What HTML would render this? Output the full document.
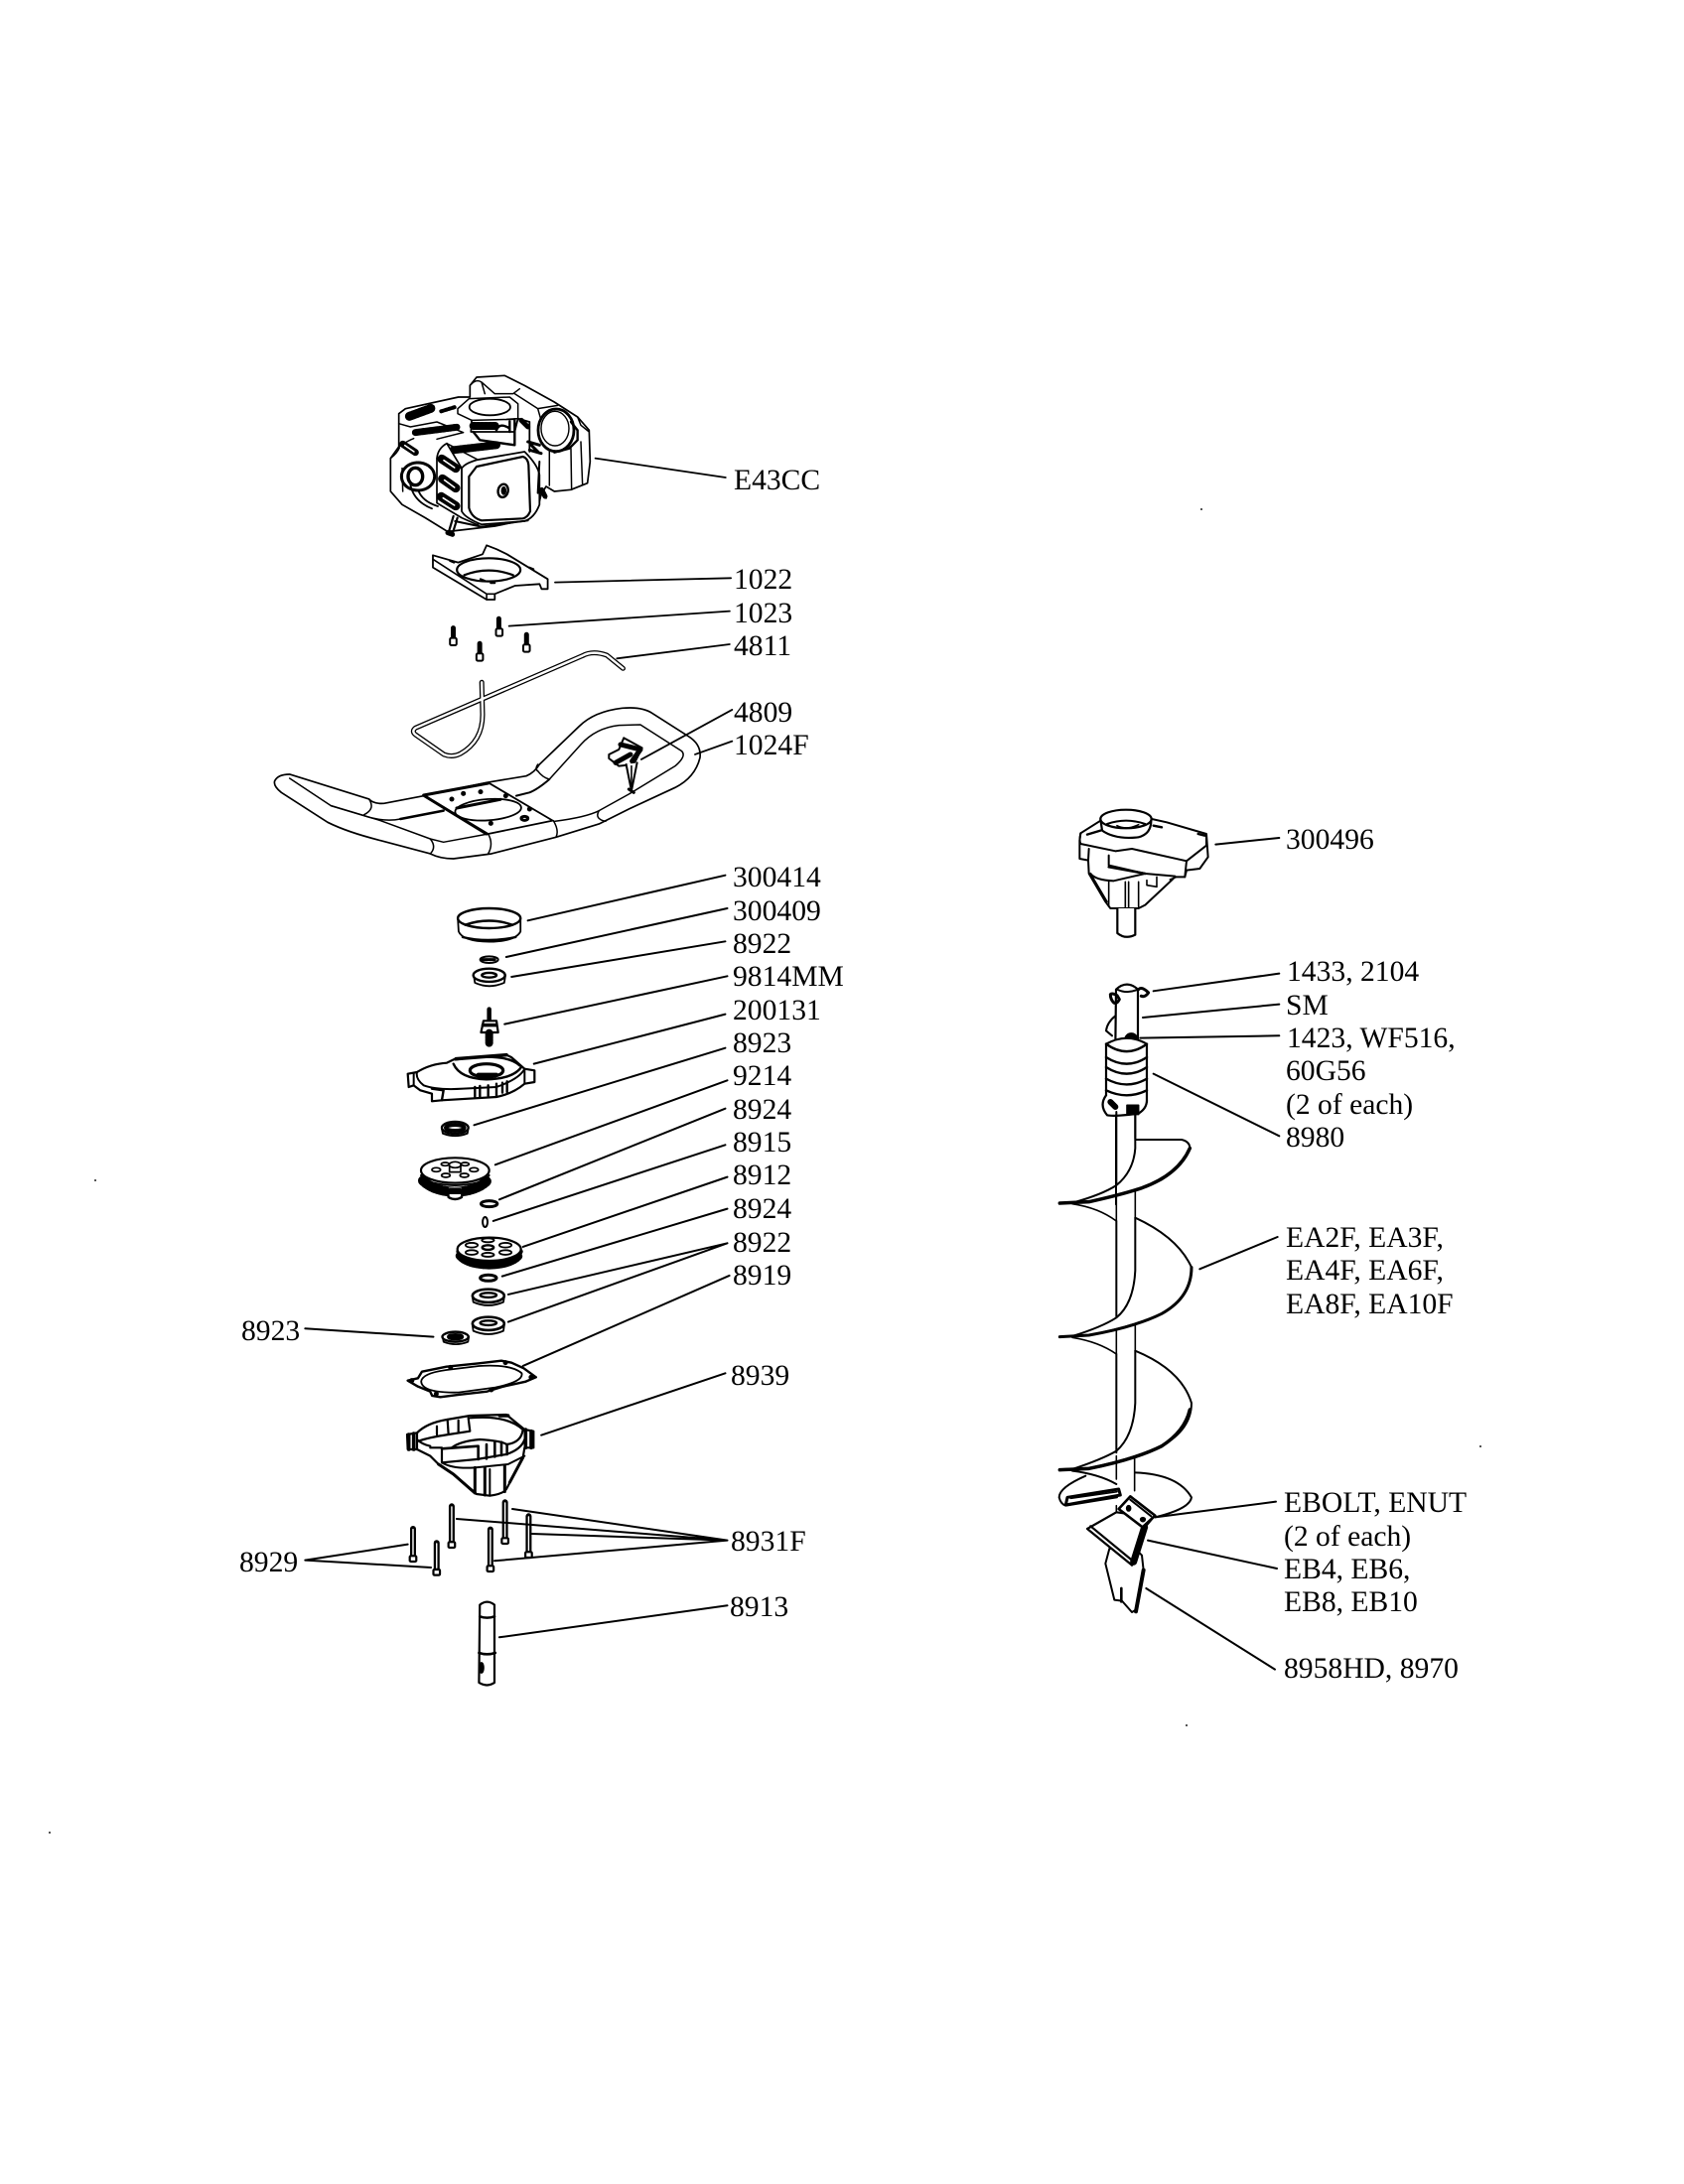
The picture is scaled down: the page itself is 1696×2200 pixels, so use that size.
<!DOCTYPE html>
<html><head><meta charset="utf-8"><title>Parts diagram</title>
<style>
html,body{margin:0;padding:0;background:#fff}
svg{display:block}
svg *{vector-effect:non-scaling-stroke}
text{font-family:"Liberation Serif",serif;font-size:29.6px;fill:#000;stroke:none}
</style></head><body>
<svg width="1696" height="2200" viewBox="0 0 1696 2200" xmlns="http://www.w3.org/2000/svg">
<rect width="1696" height="2200" fill="#fff"/>

<!-- ENGINE (3x crop at 385,365) -->
<g transform="translate(385,365) scale(.3333)" fill="none" stroke="#000" stroke-width="1.5" stroke-linejoin="round" stroke-linecap="round">
<path fill="#fff" stroke-width="1.7" d="M25 290L50 255L50 155L70 140L230 105L265 105L265 70L285 45L370 40L430 70L520 120L590 165L625 205L628 300L620 365L570 385L520 390L495 375L480 400L470 440L440 475L340 495L210 510L195 510L130 470L60 430L25 390Z"/>
<path d="M270 65Q285 50 300 60L340 95L395 95L415 80M400 95L470 140L530 130M300 60L310 95M470 140L480 175"/>
<path d="M228 140L262 110L385 105L410 125L410 170L375 172M228 140L228 155L270 175L400 172"/>
<ellipse cx="325" cy="135" rx="62" ry="25" fill="#fff" stroke-width="1.8"/>
<path d="M270 175L268 210L400 210L410 170L445 180M445 180L445 270" stroke-width="1.8"/>
<path d="M275 192L345 192" stroke-width="8" stroke-dasharray="2 2"/>
<path d="M345 205Q355 180 385 200M385 178L385 210M400 172L400 250M275 210L295 235L400 250" stroke-width="2.4"/>
<path d="M420 175L440 195" stroke-width="5"/>
<path d="M82 163L150 138" stroke-width="9" stroke-dasharray="2 1.5"/>
<path d="M178 148L220 135" stroke-width="4" stroke-dasharray="2 2"/>
<path d="M50 185L85 195L165 180L245 212L165 232"/>
<path d="M100 212L225 196" stroke-width="7" stroke-dasharray="2 1.5"/>
<path d="M215 265L345 250" stroke-width="8" stroke-dasharray="2 1.5"/>
<path d="M440 240L475 250M445 265L480 275M450 250L470 270" stroke-width="3"/>
<path d="M505 255L505 372M570 260L572 385M590 165L600 190L625 210M600 240L605 370" />
<ellipse cx="525" cy="205" rx="54" ry="64" fill="#fff" stroke-width="2.8"/>
<ellipse cx="522" cy="200" rx="42" ry="52" stroke-width="1.4"/>
<path d="M570 180L590 205L590 235L565 260L520 272" stroke-width="2.4"/>
<!-- shroud -->
<path fill="#fff" stroke-width="1.7" d="M240 320L195 245Q168 260 165 290L165 425L240 470L290 492L270 320Z"/>
<path d="M195 245L290 295M165 290L240 320"/>
<path d="M180 292L222 320M182 352L222 380M178 406L222 434" stroke-width="9"/>
<path d="M186 296L218 318M188 356L218 378M184 410L218 432" stroke="#fff" stroke-width="1.6"/>
<path d="M62 247L100 272" stroke-width="7"/><path d="M68 251L96 270" stroke="#fff" stroke-width="1.5"/>
<path d="M50 255Q80 235 95 230" />
<path fill="#fff" stroke-width="1.8" d="M240 320Q250 305 285 295L430 270Q470 310 475 340L475 430Q460 470 430 480L300 490Q250 470 240 450Z"/>
<path stroke-width="2.2" d="M262 345L285 315L425 285Q440 290 442 310L447 450Q440 468 425 472L300 478Q270 470 262 440Z"/>
<ellipse cx="365" cy="388" rx="15" ry="20" stroke-width="2.4" transform="rotate(12 365 388)"/><ellipse cx="367" cy="388" rx="6" ry="11" fill="#000"/>
<ellipse cx="108" cy="345" rx="50" ry="42" stroke-width="3" stroke-dasharray="5 1"/>
<ellipse cx="100" cy="345" rx="22" ry="26" stroke-width="3.4"/>
<path d="M85 370Q95 420 150 442M108 385Q120 420 168 435" stroke-width="1.8"/>
<path d="M25 290Q45 275 52 258M60 320L62 390" />
<path d="M215 465L200 515M227 470L212 518" stroke-width="2.2"/><path d="M198 515L212 520" stroke-width="5"/>
<path d="M220 480L300 497L440 478" stroke-width="2"/>
<path d="M475 300L470 395M478 395L495 410" stroke-width="2"/><path d="M482 385L492 405" stroke-width="5"/>
</g>

<!-- GROUP 1: plate, screws, rod, leaders -->
<g transform="translate(240,350) scale(.41,.3333)" fill="none" stroke="#000" stroke-width="1.6" stroke-linejoin="round" stroke-linecap="round">
<path fill="#fff" stroke-width="1.8" d="M478 628L540 650L600 625L610 598L635 610L660 625L700 655L760 700L760 730L745 730L740 715L680 720L630 745L630 762L610 762L478 665Z"/>
<path d="M478 640L610 745L630 745M610 745L610 762"/>
<ellipse cx="615" cy="672" rx="78" ry="35" fill="#fff" stroke-width="2.2"/>
<path d="M555 688Q615 660 675 688" stroke-width="2.2"/>
<path d="M595 700L605 705M620 712L630 712M520 645L530 650M715 665L725 670" stroke-width="2"/>
<path d="M640 820L640 850" stroke-width="5"/><rect x="633" y="850" width="16" height="22" rx="4" fill="#fff" stroke-width="2"/>
<path d="M528 848L528 878" stroke-width="5"/><rect x="520" y="878" width="16" height="22" rx="4" fill="#fff" stroke-width="2"/>
<path d="M708 868L708 898" stroke-width="5"/><rect x="700" y="898" width="16" height="22" rx="4" fill="#fff" stroke-width="2"/>
<path d="M593 895L593 925" stroke-width="5"/><rect x="585" y="925" width="16" height="22" rx="4" fill="#fff" stroke-width="2"/>
<path d="M945 970L905 930Q870 915 845 932L435 1150Q425 1160 435 1170L505 1230Q525 1240 545 1228Q600 1190 600 1110L598 1012" stroke-width="5"/>
<path d="M945 970L905 930Q870 915 845 932L435 1150Q425 1160 435 1170L505 1230Q525 1240 545 1228Q600 1190 600 1110L598 1012" stroke="#fff" stroke-width="2.4"/>
<path stroke-width="1.8" d="M877 335L1197 393M778 710L1210 697M665 842L1207 797M930 940L1207 897M990 1245L1213 1095M1122 1230L1213 1190"/>
</g>

<!-- HANDLE (3x crop at 270,700) -->
<g transform="translate(270,700) scale(.3333)" fill="none" stroke="#000" stroke-width="1.5" stroke-linejoin="round" stroke-linecap="round">
<path stroke-width="1.7" d="M305 315Q318 330 350 328L470 305L660 265L780 245Q805 235 820 210L940 95Q985 50 1070 40Q1130 35 1160 55L1270 125Q1310 150 1305 190Q1290 250 1230 280L1090 345L1000 390L870 430L675 480L560 495Q520 495 490 480L340 440Q240 415 180 385L40 295Q15 275 20 260Q30 240 65 240L305 315"/>
<path d="M65 252L190 335L290 365Q350 385 400 375L530 350M815 230Q830 250 850 255L945 150Q990 100 1060 92L1125 90L1250 170Q1265 185 1230 215L1090 300L1000 350Q960 370 865 382"/>
<path stroke-width="2" d="M750 305L790 295Q815 285 850 255"/>
<path d="M190 335L340 380L490 435L530 445L665 420"/>
<path d="M490 435Q510 460 490 480M665 420Q682 450 665 480M862 380Q880 410 870 430M305 315Q325 345 290 362M815 210Q805 225 815 230M1000 350Q985 375 1020 382"/>
<path stroke-width="2.5" d="M400 375L530 350"/>
<path fill="#fff" stroke-width="1.8" d="M470 303L665 265L860 380L665 420Z"/>
<path stroke-width="3" d="M472 305L660 420M470 303L665 267"/>
<ellipse cx="665" cy="347" rx="100" ry="32" stroke-width="1.8" transform="rotate(-4 665 347)"/>
<path stroke-width="3" d="M570 342L702 316"/>
<path stroke-width="5" d="M555 315l.1 0M590 298l.1 0M642 293l.1 0M718 305l.1 0M790 345l.1 0M673 388l.1 0"/>
<ellipse cx="775" cy="373" rx="10" ry="6" stroke-width="3"/>
<!-- latch -->
<path fill="#fff" stroke-width="2" d="M1075 130L1130 160L1105 210L1060 215L1030 192L1030 180L1060 165Z"/>
<path stroke-width="5" d="M1065 150L1125 165L1100 200M1050 205L1095 180"/>
<path fill="#fff" stroke-width="2" d="M1082 210L1098 290L1115 205"/>
<path stroke-width="1.6" d="M1098 215L1098 280"/>
<path stroke-width="3" d="M1090 285L1105 295"/>
</g>

<!-- GROUP 2: ring -> bearings -->
<g transform="translate(220,850) scale(.41,.3333)" fill="none" stroke="#000" stroke-width="1.8" stroke-linejoin="round" stroke-linecap="round">
<path fill="#fff" d="M588 225L590 265Q600 295 665 296Q730 295 742 265L742 225"/>
<ellipse cx="665" cy="225" rx="77" ry="30" fill="#fff" stroke-width="2.4"/>
<path d="M606 245Q665 220 722 245" stroke-width="2.4"/>
<path d="M600 282Q660 300 730 282" stroke-width="2.4"/>
<ellipse cx="665" cy="350" rx="22" ry="10" stroke-width="2"/><path d="M648 350L682 350" stroke-width="3" stroke-dasharray="2 1.5"/>
<path fill="#fff" d="M627 397L630 420Q665 440 702 420L705 397"/>
<ellipse cx="665" cy="397" rx="39" ry="20" fill="#fff" stroke-width="2.4"/><ellipse cx="665" cy="397" rx="18" ry="7" stroke-width="2.4"/>
<!-- 9814MM -->
<path d="M665 500L665 535" stroke-width="4.5"/><path d="M651 535L683 535L687 570L645 570Z" fill="#fff" stroke-width="2.2"/>
<path d="M665 572L665 602" stroke-width="8" stroke-dasharray="2 1"/><path d="M650 548L682 548" stroke-width="3.5"/>
<!-- washers -->
<ellipse cx="665" cy="1088" rx="20" ry="9" stroke-width="3"/>
<ellipse cx="655" cy="1143" rx="6" ry="15" stroke-width="2"/>
<!-- 8912 gear -->
<path d="M592 1245Q610 1272 665 1274Q720 1272 738 1245" stroke-width="8" stroke-dasharray="1.6 1"/>
<path d="M590 1232Q600 1262 665 1264Q730 1262 742 1232" stroke-width="5"/>
<ellipse cx="665" cy="1225" rx="78" ry="35" fill="#fff" stroke-width="2.2"/>
<ellipse cx="622" cy="1213" rx="15" ry="7"/><ellipse cx="622" cy="1235" rx="15" ry="7"/><ellipse cx="705" cy="1213" rx="15" ry="7"/><ellipse cx="705" cy="1235" rx="15" ry="7"/><ellipse cx="662" cy="1198" rx="15" ry="6"/><ellipse cx="662" cy="1242" rx="15" ry="6"/><ellipse cx="662" cy="1220" rx="14" ry="7" stroke-width="2.4"/>
<ellipse cx="663" cy="1312" rx="20" ry="9" stroke-width="3"/>
<!-- bearings -->
<path fill="#fff" d="M624 1370L626 1385Q663 1405 700 1385L702 1370"/>
<ellipse cx="663" cy="1366" rx="39" ry="20" fill="#fff" stroke-width="2.6"/><ellipse cx="663" cy="1364" rx="20" ry="7" stroke-width="2.4"/>
<path fill="#fff" d="M624 1455L626 1472Q663 1492 700 1472L702 1455"/>
<ellipse cx="663" cy="1450" rx="39" ry="20" fill="#fff" stroke-width="2.6"/><ellipse cx="663" cy="1448" rx="20" ry="7" stroke-width="2.4"/>
<path fill="#fff" d="M551 1492L553 1505Q583 1520 613 1505L615 1490"/>
<ellipse cx="582" cy="1490" rx="32" ry="15" fill="#fff" stroke-width="2.4"/><ellipse cx="582" cy="1490" rx="16" ry="5" stroke-width="4"/>
<!-- leaders -->
<path stroke-width="2" d="M760 232L1245 95M707 342L1250 195M720 402L1245 295M703 545L1250 400M775 665L1245 515M628 850L1245 617M680 970L1250 715M690 1075L1245 800M675 1140L1245 910M748 1218L1250 1007M697 1307L1250 1103M712 1362L1250 1207M712 1445L1250 1207M748 1578L1255 1305M213 1465L528 1490"/>
</g>

<!-- COVER 200131, seal, gear 9214 (3x crop at 400,1030) -->
<g transform="translate(400,1030) scale(.3333)" fill="none" stroke="#000" stroke-width="1.7" stroke-linejoin="round" stroke-linecap="round">
<path fill="#fff" stroke-width="2.2" d="M32 155L60 150Q100 125 150 122L175 110L330 98L345 105L385 140L415 145L415 180L385 185Q350 215 300 225L135 235L105 238L105 215L70 205L50 190L35 195Z"/>
<path stroke-width="2" d="M60 150Q55 170 80 190Q120 205 200 200L300 195Q370 170 385 140M50 155L50 190M385 140L385 185"/>
<path stroke-width="2.4" d="M170 125Q190 170 270 172Q350 170 375 135M175 112Q330 90 370 130"/>
<ellipse cx="270" cy="145" rx="50" ry="20" stroke-width="3.2"/>
<path stroke-width="3.5" d="M245 157L300 157M178 110L330 98"/>
<path stroke-width="2.4" d="M105 200L140 205L135 235M235 195L235 225M250 192L250 225M275 190L275 222M300 185L300 222M318 182L318 212M332 178L332 210"/>
<!-- 8923 seal -->
<path fill="#fff" stroke-width="2" d="M135 320L138 335Q175 350 212 335L215 318"/>
<ellipse cx="175" cy="318" rx="40" ry="18" fill="#fff" stroke-width="2.4"/>
<ellipse cx="175" cy="318" rx="28" ry="9" stroke-width="4"/>
<!-- 9214 gear -->
<path d="M78 478Q110 510 175 512Q240 510 272 478" stroke-width="10" stroke-dasharray="1.8 1.4"/>
<path d="M72 462Q90 490 175 492Q260 490 278 462" stroke-width="2"/>
<ellipse cx="175" cy="447" rx="103" ry="38" fill="#fff" stroke-width="2.2"/>
<path fill="#fff" stroke-width="2.4" d="M152 500L155 528Q175 540 195 528L198 500"/>
<path stroke-width="6" stroke-dasharray="1.8 1.2" d="M158 510L192 510"/>
<ellipse cx="175" cy="430" rx="18" ry="9"/><path d="M158 432L158 452L192 452L192 430"/>
<ellipse cx="118" cy="445" rx="13" ry="6"/><ellipse cx="232" cy="445" rx="13" ry="6"/><ellipse cx="147" cy="462" rx="13" ry="6"/><ellipse cx="203" cy="462" rx="13" ry="6"/><ellipse cx="145" cy="428" rx="12" ry="5"/><ellipse cx="205" cy="428" rx="12" ry="5"/>
</g>

<!-- GROUP 3: gasket, bolts, shaft -->
<g transform="translate(220,1300) scale(.41,.3333)" fill="none" stroke="#000" stroke-width="1.8" stroke-linejoin="round" stroke-linecap="round">
<path stroke-width="2.4" d="M465 272L490 265L500 245L560 230L640 220L695 212L720 218L750 235L780 262L755 275L700 290L660 305L590 315L545 322L525 318L520 305L490 290Z"/>
<path stroke-width="1.8" d="M498 275Q500 250 560 240L640 228Q720 222 745 250Q750 275 680 293L590 308Q500 310 498 275Z"/>
<path d="M475 272l.1 0M768 262l.1 0M535 312l.1 0M705 218l.1 0M570 232l.1 0M670 300l.1 0" stroke-width="5"/>
<path d="M573 652L573 760" stroke-width="6"/><path d="M573 654L573 755" stroke="#fff" stroke-width="1.4"/><rect x="565" y="760" width="16" height="17" rx="3" fill="#fff" stroke-width="2.2"/>
<path d="M704 640L704 748" stroke-width="6"/><path d="M704 642L704 745" stroke="#fff" stroke-width="1.4"/><rect x="696" y="748" width="16" height="17" rx="3" fill="#fff" stroke-width="2.2"/>
<path d="M762 682L762 790" stroke-width="6"/><path d="M762 684L762 785" stroke="#fff" stroke-width="1.4"/><rect x="754" y="790" width="16" height="17" rx="3" fill="#fff" stroke-width="2.2"/>
<path d="M668 722L668 832" stroke-width="6"/><path d="M668 724L668 828" stroke="#fff" stroke-width="1.4"/><rect x="660" y="832" width="16" height="17" rx="3" fill="#fff" stroke-width="2.2"/>
<path d="M478 720L478 802" stroke-width="6"/><path d="M478 722L478 798" stroke="#fff" stroke-width="1.4"/><rect x="470" y="802" width="16" height="17" rx="3" fill="#fff" stroke-width="2.2"/>
<path d="M536 763L536 843" stroke-width="6"/><path d="M536 765L536 838" stroke="#fff" stroke-width="1.4"/><rect x="528" y="843" width="16" height="17" rx="3" fill="#fff" stroke-width="2.2"/>
<path fill="#fff" stroke-width="2.2" d="M642 950Q660 932 678 950L678 1185Q660 1200 640 1185Z"/>
<path d="M642 985Q660 993 678 985M640 1095Q660 1103 680 1095" stroke-width="2.6"/>
<ellipse cx="646" cy="1140" rx="5" ry="15" fill="#000"/>
<path stroke-width="2" d="M793 437L1245 250M722 660L1250 755M585 690L1250 755M770 735L1250 755M678 817L1250 755M213 815L465 767M213 815L522 837M690 1048L1250 952"/>
</g>

<!-- HOUSING 8939 (3x crop at 400,1410) -->
<g transform="translate(400,1410) scale(.3333)" fill="none" stroke="#000" stroke-width="2" stroke-linejoin="round" stroke-linecap="round">
<path fill="#fff" stroke-width="2.2" d="M30 105L60 100Q90 70 150 60L220 48L330 45L385 90L412 95L412 145L385 145L380 175L330 270Q320 285 280 290L240 285L170 225L125 195L100 170L60 150L32 150Z"/>
<path stroke-width="2.2" d="M60 100L60 150M60 120Q75 135 100 140M65 125Q90 115 155 105L220 95L215 55M155 105L152 60M120 80L120 105M185 62L185 100"/>
<path stroke-width="2.2" d="M220 55Q330 45 380 90Q375 130 330 135M165 145Q190 125 250 120Q320 125 330 135M100 145L135 145L135 190L240 180L330 165Q375 150 385 120"/>
<path stroke-width="2.6" d="M245 140L245 180M270 135L270 178M295 130L295 172M315 128L315 168M332 135L332 165M135 148L245 140"/>
<path stroke-width="3" d="M235 205L235 280M265 205L265 288M325 200L325 278M125 195L170 225L235 282M380 175L340 250"/>
<path stroke-width="2" d="M135 190Q170 210 235 205L335 195L385 170M280 210L280 290"/>
<path stroke-width="3.6" d="M35 105L35 150M50 102L50 150M388 90L388 145M405 95L405 145"/>
<path stroke-width="3.5" d="M310 48L335 48"/>
</g>

<!-- GROUP 4: gearbox & coupler -->
<g transform="translate(1040,780) scale(.3333)" fill="none" stroke="#000" stroke-width="1.6" stroke-linejoin="round" stroke-linecap="round">
<path fill="#fff" stroke-width="2" d="M145 178L205 140L360 135L405 145L525 180L530 250L505 285L465 290L460 310L430 310L420 320L340 395L320 405L235 405L220 385L170 300L168 260L142 255L142 200Z"/>
<path stroke-width="2" d="M145 178Q140 200 145 210L250 232L300 225L465 262L525 215L525 185M170 225L168 260M465 262L460 310M230 245L230 275L340 300L430 308M175 300Q190 320 245 322L340 300"/>
<path stroke-width="2.4" d="M230 280L340 300M165 182L205 170M365 155L390 160M500 180L520 185"/>
<path d="M230 322L230 400M280 325L280 405M290 325L290 405M320 325L320 400M345 320L345 335L375 340L375 310M175 300L225 385M415 318L435 310"/>
<path fill="#fff" stroke-width="2.2" d="M205 135L210 170Q250 198 320 190Q360 180 358 135"/>
<ellipse cx="282" cy="135" rx="77" ry="28" fill="#fff" stroke-width="2.2"/>
<path d="M225 150Q282 130 340 150" stroke-width="2"/>
<path d="M255 155Q285 170 320 152"/>
<path fill="#fff" stroke-width="2.2" d="M256 405L256 480Q280 500 310 485L310 405"/>
<path d="M250 730Q225 750 222 775L240 790" stroke-width="2"/>
<path fill="#fff" stroke-width="2.2" d="M252 650Q285 620 318 650L318 820L250 820Z"/>
<path d="M235 665Q240 660 255 668L262 680Q255 695 245 690Q235 680 235 665Z" stroke-width="3"/>
<path d="M320 650Q330 640 350 660Q340 675 328 670" stroke-width="3"/>
<path d="M255 650Q285 665 318 650" stroke-width="2"/>
<ellipse cx="298" cy="802" rx="14" ry="14" stroke-width="5"/>
<path fill="#fff" stroke-width="2.2" d="M222 815Q285 780 345 815L345 990L222 990Z"/>
<path d="M222 815Q285 860 345 815M222 855Q285 895 345 855M222 885Q285 925 345 885M222 920Q285 955 345 920M222 955Q285 985 345 955" stroke-width="2.4"/>
<path d="M222 970Q200 1000 225 1030Q245 1035 320 1025Q345 1010 345 985" fill="#fff" stroke-width="2.2"/>
<path d="M285 1000L320 1000L320 1028L285 1028Z" fill="#000"/><path d="M235 990L250 1005" stroke-width="6"/>
<path d="M252 1030L252 1300M310 1030L310 1100" stroke-width="2"/>
<path stroke-width="2" d="M553 212L745 192M365 655L745 602M333 735L745 695M325 797L745 790M365 905L745 1093"/>
</g>

<!-- GROUP 5: auger flights -->
<g transform="translate(1030,1120) scale(.3333)" fill="none" stroke="#000" stroke-width="1.6" stroke-linejoin="round" stroke-linecap="round">
<path stroke-width="2" d="M283 0L283 220M340 0L340 110Q335 180 283 222Q240 250 150 275"/>
<path stroke-width="2" d="M340 84L480 84Q505 90 505 110Q490 160 420 205Q350 240 200 272L112 276"/>
<path stroke-width="3.5" d="M112 276L200 272Q300 250 360 230Q470 190 505 110"/>
<path d="M340 235L340 320M283 250L283 330M150 278Q230 290 283 330"/>
<path stroke-width="2" d="M340 320Q470 380 510 470Q510 560 420 610Q330 650 200 675L112 680"/>
<path stroke-width="3" d="M112 680L200 675Q340 650 420 610Q510 560 510 470"/>
<path stroke-width="2" d="M283 330L283 620M340 320L340 480Q335 580 283 622Q240 650 150 678"/>
<path d="M150 682Q230 695 283 732M283 660L283 732M340 640L340 720"/>
<path stroke-width="2" d="M340 722Q480 780 510 880Q510 960 420 1010Q330 1050 200 1078L112 1082"/>
<path stroke-width="2" d="M283 732L283 1030M340 722L340 880Q335 980 283 1025Q240 1050 150 1080"/>
<path stroke-width="3" d="M112 1082L200 1078Q340 1050 420 1010"/>
<path stroke-width="2" d="M535 475L770 378"/>
</g>

<!-- GROUP 6: auger bottom -->
<g transform="translate(1030,1420) scale(.3333)" fill="none" stroke="#000" stroke-width="1.6" stroke-linejoin="round" stroke-linecap="round">
<path d="M283 140L283 210M338 140L338 245M283 290L283 310"/>
<path stroke-width="2" d="M150 185Q230 195 283 225M340 190Q470 195 510 265Q505 300 400 325"/>
<path stroke-width="2" d="M190 200Q110 235 110 265Q115 285 130 290L285 265"/>
<path fill="#fff" stroke-width="3" d="M135 265L290 240L295 258L130 288Z"/><path d="M145 268L285 248"/>
<path stroke-width="3.5" d="M112 182L200 178Q340 150 420 110Q490 65 505 0"/>
<path fill="#fff" stroke-width="2" d="M262 420L250 465L277 575L300 578L330 612L342 605L365 485L360 440L340 420Z"/>
<path stroke-width="4" d="M365 485L342 610"/><path stroke-width="2.6" d="M298 540L298 580"/>
<path fill="#fff" stroke-width="2.2" d="M195 360L283 310L395 325L365 360L330 470Z"/>
<path stroke-width="2.2" d="M205 352L330 455L330 470M330 455L365 345"/>
<path stroke-width="7" d="M335 460L368 355"/>
<path fill="#fff" stroke-width="2.6" d="M290 300L325 262L400 320L362 355Z"/>
<path stroke-width="2" d="M325 272L388 322"/>
<ellipse cx="320" cy="298" rx="6" ry="8" fill="#000"/><ellipse cx="363" cy="332" rx="7" ry="6" fill="#000"/>
<path stroke-width="2" d="M400 325L765 278M378 395L768 480M373 540L762 785"/>
</g>

<!-- speckles -->
<g fill="#555"><rect x="1209" y="512" width="2" height="2"/><rect x="95" y="1188" width="2" height="2"/><rect x="49" y="1845" width="2" height="2"/><rect x="1194" y="1737" width="2" height="2"/><rect x="1490" y="1456" width="2" height="2"/></g>

<!-- labels -->
<text x="739" y="493">E43CC</text>
<text x="739" y="593">1022</text>
<text x="739" y="627">1023</text>
<text x="739" y="660">4811</text>
<text x="739" y="727">4809</text>
<text x="739" y="760">1024F</text>
<text x="738" y="893">300414</text>
<text x="738" y="927">300409</text>
<text x="738" y="960">8922</text>
<text x="738" y="993">9814MM</text>
<text x="738" y="1027">200131</text>
<text x="738" y="1060">8923</text>
<text x="738" y="1093">9214</text>
<text x="738" y="1127">8924</text>
<text x="738" y="1160">8915</text>
<text x="738" y="1193">8912</text>
<text x="738" y="1227">8924</text>
<text x="738" y="1261">8922</text>
<text x="738" y="1294">8919</text>
<text x="243" y="1350">8923</text>
<text x="736" y="1395">8939</text>
<text x="736" y="1562">8931F</text>
<text x="241" y="1583">8929</text>
<text x="735" y="1628">8913</text>
<text x="1295" y="855">300496</text>
<text x="1296" y="988">1433, 2104</text>
<text x="1295" y="1022">SM</text>
<text x="1296" y="1055">1423, WF516,</text>
<text x="1295" y="1088">60G56</text>
<text x="1295" y="1122">(2 of each)</text>
<text x="1295" y="1155">8980</text>
<text x="1295" y="1256">EA2F, EA3F,</text>
<text x="1295" y="1289">EA4F, EA6F,</text>
<text x="1295" y="1323">EA8F, EA10F</text>
<text x="1293" y="1523">EBOLT, ENUT</text>
<text x="1293" y="1557">(2 of each)</text>
<text x="1293" y="1590">EB4, EB6,</text>
<text x="1293" y="1623">EB8, EB10</text>
<text x="1293" y="1690">8958HD, 8970</text>
</svg>
</body></html>
